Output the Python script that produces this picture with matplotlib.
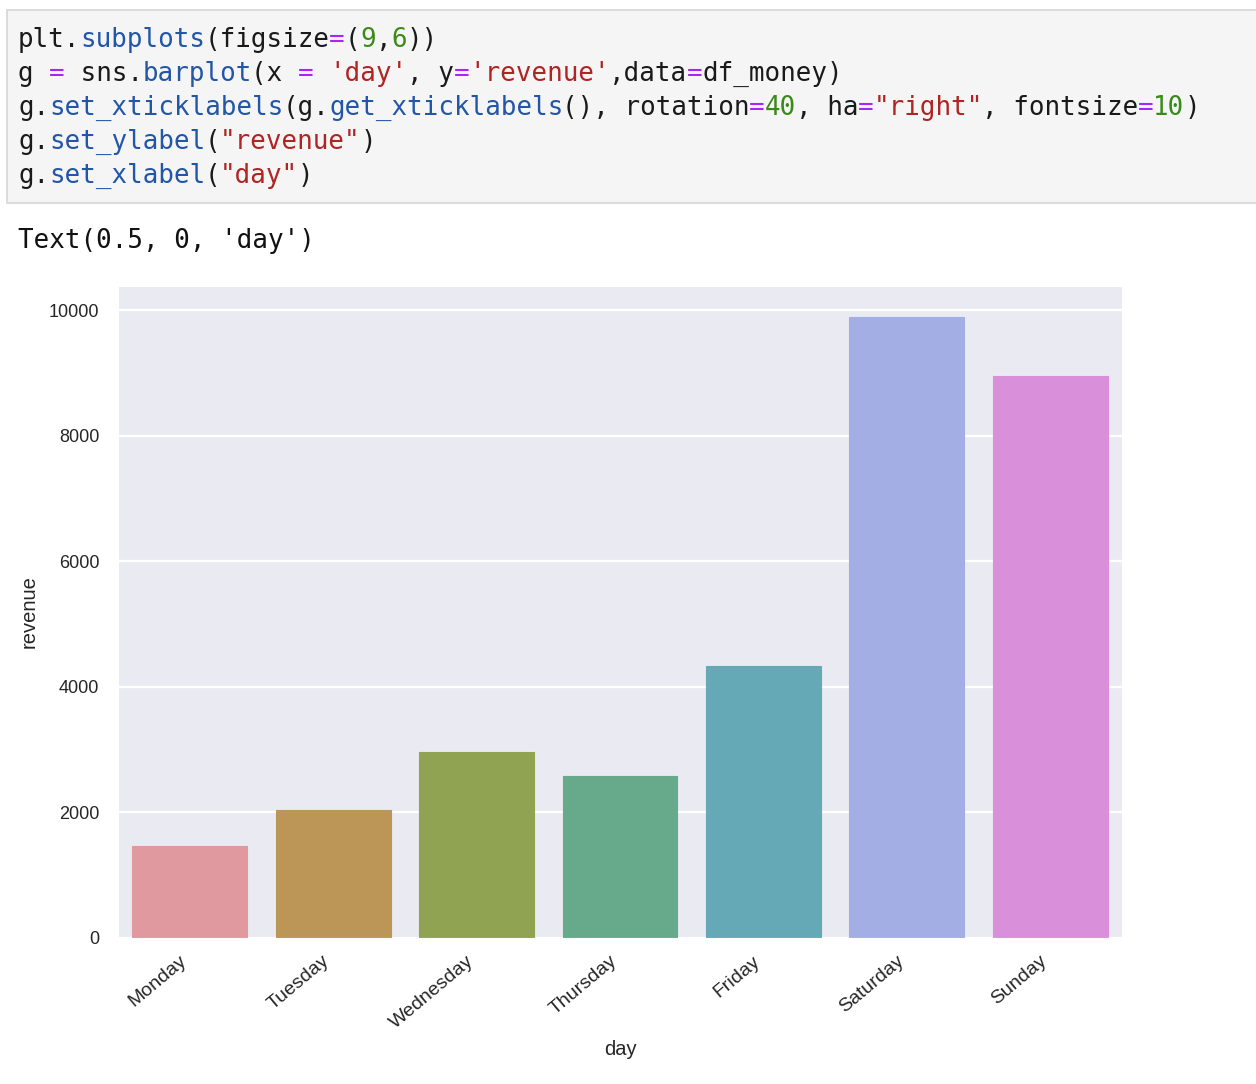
import matplotlib
matplotlib.use("Agg")
import matplotlib.pyplot as plt
import matplotlib.patches as mpatches
import seaborn as sns

# data
days = ["Monday", "Tuesday", "Wednesday", "Thursday", "Friday", "Saturday", "Sunday"]
revenue = [1465, 2040, 2960, 2580, 4330, 9900, 8950]
bar_colors = ["#e0999f", "#bb9657", "#8fa352", "#66aa8b", "#65a8b6", "#a3aee5", "#da8fdb"]

# notebook cell text, as (token, colour) pieces
C_TXT, C_FN, C_OP, C_NUM, C_STR = "#1a1a1a", "#2256a8", "#aa22ff", "#3a8a1a", "#b02424"
code_lines = [
    [("plt.", C_TXT), ("subplots", C_FN), ("(figsize", C_TXT), ("=", C_OP), ("(", C_TXT),
     ("9", C_NUM), (",", C_TXT), ("6", C_NUM), ("))", C_TXT)],
    [("g ", C_TXT), ("=", C_OP), (" sns.", C_TXT), ("barplot", C_FN), ("(x ", C_TXT), ("=", C_OP),
     (" ", C_TXT), ("'day'", C_STR), (", y", C_TXT), ("=", C_OP), ("'revenue'", C_STR),
     (",data", C_TXT), ("=", C_OP), ("df_money)", C_TXT)],
    [("g.", C_TXT), ("set_xticklabels", C_FN), ("(g.", C_TXT), ("get_xticklabels", C_FN),
     ("(), rotation", C_TXT), ("=", C_OP), ("40", C_NUM), (", ha", C_TXT), ("=", C_OP),
     ('"right"', C_STR), (", fontsize", C_TXT), ("=", C_OP), ("10", C_NUM), (")", C_TXT)],
    [("g.", C_TXT), ("set_ylabel", C_FN), ("(", C_TXT), ('"revenue"', C_STR), (")", C_TXT)],
    [("g.", C_TXT), ("set_xlabel", C_FN), ("(", C_TXT), ('"day"', C_STR), (")", C_TXT)],
]
output_line = "Text(0.5, 0, 'day')"

sns.set_style("darkgrid")
W, H = 1256, 1084
fig = plt.figure(figsize=(W / 100, H / 100), dpi=100)
fig.patch.set_facecolor("white")

# code cell box
box = mpatches.Rectangle((7 / W, 1 - 203 / H), 1.0, 193 / H, transform=fig.transFigure,
                         facecolor="#f5f5f5", edgecolor="#d6d6d6", linewidth=1.2)
fig.add_artist(box)

mono = "DejaVu Sans Mono"
fs_code = 18.6
char_w = 0.602 * fs_code * 100 / 72  # px per character
for i, toks in enumerate(code_lines):
    y = 1 - (40 + 34 * i) / H
    col = 0
    for txt, c in toks:
        fig.text((18 + col * char_w) / W, y, txt, color=c, fontsize=fs_code,
                 family=mono, va="center", ha="left")
        col += len(txt)

fig.text(18 / W, 1 - 241 / H, output_line, color="#111111", fontsize=fs_code,
         family=mono, va="center", ha="left")

# the chart
ax = fig.add_axes([118 / W, 1 - 938 / H, 1004 / W, 652 / H])
x = list(range(len(days)))
ax.bar(x, revenue, width=0.8, color=bar_colors, edgecolor=bar_colors, linewidth=0.8)
ax.set_xlim(-0.5, len(days) - 0.5)
ax.set_ylim(0, 10390)
ax.set_yticks([0, 2000, 4000, 6000, 8000, 10000])
ax.set_xticks(x)
ax.set_xticklabels(days, rotation=40, ha="right", fontsize=14, color="#262626",
                   family="Liberation Sans")
ax.tick_params(axis="y", labelsize=13, labelcolor="#262626", pad=10)
for lab in ax.get_yticklabels():
    lab.set_family("Liberation Sans")
ax.tick_params(axis="x", pad=7)
ax.set_ylabel("revenue", fontsize=14.5, color="#262626", family="Liberation Sans", labelpad=7)
ax.set_xlabel("day", fontsize=14.5, color="#262626", family="Liberation Sans", labelpad=6)
ax.grid(axis="x", visible=False)
ax.grid(axis="y", color="white", linewidth=1.6)
ax.set_axisbelow(True)

fig.savefig("out.png", dpi=100)
